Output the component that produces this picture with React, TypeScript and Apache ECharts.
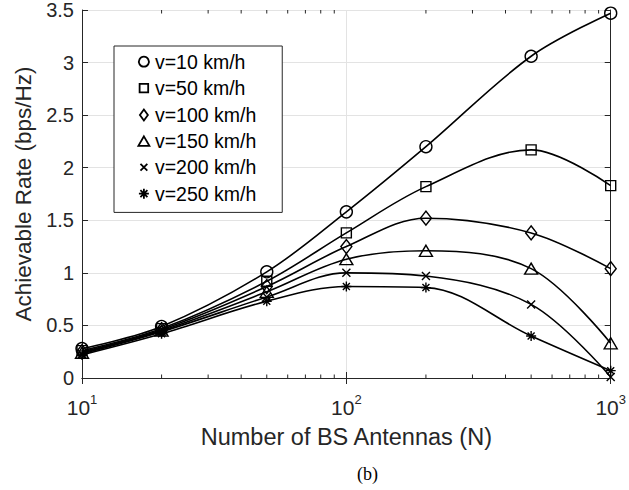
import React, { useEffect, useRef } from 'react';
import * as echarts from 'echarts';

// ---- data ----
const antennas = [10, 20, 50, 100, 200, 500, 1000];
const seriesNames = ['v=10 km/h', 'v=50 km/h', 'v=100 km/h', 'v=150 km/h', 'v=200 km/h', 'v=250 km/h'];
const rateV10 = [0.28, 0.49, 1.01, 1.58, 2.2, 3.06, 3.47];
const rateV50 = [0.26, 0.47, 0.92, 1.38, 1.82, 2.17, 1.83];
const rateV100 = [0.25, 0.46, 0.87, 1.25, 1.52, 1.38, 1.04];
const rateV150 = [0.24, 0.45, 0.82, 1.13, 1.21, 1.04, 0.33];
const rateV200 = [0.23, 0.44, 0.77, 1.0, 0.97, 0.7, 0.01];
const rateV250 = [0.22, 0.42, 0.73, 0.87, 0.86, 0.4, 0.07];
const allRates = [rateV10, rateV50, rateV100, rateV150, rateV200, rateV250];
const minorTickValues = [20, 30, 40, 50, 60, 70, 80, 90, 200, 300, 400, 500, 600, 700, 800, 900];
const yMin = 0;
const yMax = 3.5;
const yInterval = 0.5;
const xMin = 10;
const xMax = 1000;

const FONT = 'Liberation Sans, Arial, Helvetica, sans-serif';
const AXIS_COLOR = '#262626';

const xPath = 'path://M0,0L10,10M10,0L0,10';
const starPath = 'path://M5,0L5,10M0,5L10,5M1.5,1.5L8.5,8.5M8.5,1.5L1.5,8.5';
const symbols: any[] = ['circle', 'rect', 'diamond', 'triangle', xPath, starPath];
const symbolSizes: any[] = [12, 10, [11, 14], [13, 11], 8, 10];
// legend icons padded with invisible move-to points so they render smaller
const legendIcons = [
  'path://M-1,-1M11,11M5,0A5,5,0,1,1,4.99,0Z',
  'path://M-2,-2M12,12M0,0L10,0L10,10L0,10Z',
  'path://M-1,-1M11,11M5,0L9,5.5L5,11L1,5.5Z',
  'path://M-1,-1M11,11M5,0.5L10.5,10L-0.5,10Z',
  'path://M-3,-3M11,11M0,0L8,8M8,0L0,8',
  'path://M-1,-1M11,11M5,0L5,10M0,5L10,5M1.5,1.5L8.5,8.5M8.5,1.5L1.5,8.5',
];

export default function App() {
  const ref = useRef<HTMLDivElement>(null);
  useEffect(() => {
    if (!ref.current) return;
    const chart = echarts.init(ref.current, undefined, { renderer: 'svg' });
    const lineSeries = seriesNames.map((name, i) => ({
      name,
      type: 'line',
      xAxisIndex: 0,
      yAxisIndex: 0,
      data: antennas.map((n, k) => [n, allRates[i][k]]),
      smooth: 0.35,
      symbol: symbols[i],
      symbolSize: symbolSizes[i],
      showAllSymbol: true,
      lineStyle: { color: '#000', width: 1.6 },
      itemStyle: { color: 'rgba(0,0,0,0)', borderColor: '#000', borderWidth: 1.4 },
      emphasis: { disabled: true },
      z: 3,
    }));
    const minorTickSeries = {
      type: 'custom',
      name: 'minorTicks',
      xAxisIndex: 0,
      yAxisIndex: 0,
      silent: true,
      clip: false,
      data: minorTickValues.map((v) => [v, yMin]),
      renderItem: (params: any, api: any) => {
        const x = api.value(0);
        const pb = api.coord([x, yMin]);
        const pt = api.coord([x, yMax]);
        return {
          type: 'group',
          children: [
            { type: 'line', shape: { x1: pb[0], y1: pb[1], x2: pb[0], y2: pb[1] - 3.5 }, style: { stroke: AXIS_COLOR, lineWidth: 1 } },
            { type: 'line', shape: { x1: pt[0], y1: pt[1], x2: pt[0], y2: pt[1] + 3.5 }, style: { stroke: AXIS_COLOR, lineWidth: 1 } },
          ],
        };
      },
      z: 4,
    };
    chart.setOption({
      animation: false,
      backgroundColor: '#fff',
      textStyle: { fontFamily: FONT },
      grid: { left: 82, right: 17, top: 10, bottom: 112, containLabel: false },
      legend: {
        orient: 'vertical',
        left: 114,
        top: 46,
        backgroundColor: '#fff',
        borderColor: AXIS_COLOR,
        borderWidth: 1,
        borderRadius: 0,
        padding: [5, 26, 8, 23],
        itemWidth: 12,
        itemHeight: 12,
        itemGap: 5,
        itemTextGap: 14,
        selectedMode: false,
        textStyle: { fontSize: 19.5, color: '#000', fontFamily: FONT, lineHeight: 21.4 },
        itemStyle: { color: 'rgba(0,0,0,0)', borderColor: '#000', borderWidth: 1.8 },
        data: seriesNames.map((n, i) => ({ name: n, icon: legendIcons[i] })),
      },
      xAxis: [
        {
          type: 'log',
          logBase: 10,
          min: xMin,
          max: xMax,
          position: 'bottom',
          name: 'Number of BS Antennas (N)',
          nameLocation: 'middle',
          nameGap: 47,
          nameTextStyle: { fontSize: 23.5, color: AXIS_COLOR, fontFamily: FONT },
          axisLine: { show: true, lineStyle: { color: AXIS_COLOR, width: 1 } },
          axisTick: { show: true, inside: true, length: 6, lineStyle: { color: AXIS_COLOR } },
          splitLine: { show: true, lineStyle: { color: '#e3e3e3', width: 1 } },
          minorTick: { show: false },
          axisLabel: {
            margin: 15,
            color: AXIS_COLOR,
            showMinLabel: true,
            showMaxLabel: true,
            formatter: (v: number) => `{b|10}{s|${Math.round(Math.log10(v))}}`,
            rich: {
              b: { fontSize: 21, lineHeight: 28, color: AXIS_COLOR, fontFamily: FONT },
              s: { fontSize: 13, lineHeight: 13, verticalAlign: 'top', color: AXIS_COLOR, fontFamily: FONT },
            },
          },
        },
        {
          type: 'log',
          logBase: 10,
          min: xMin,
          max: xMax,
          position: 'top',
          axisLine: { show: true, lineStyle: { color: AXIS_COLOR, width: 1 } },
          axisTick: { show: true, inside: true, length: 6, lineStyle: { color: AXIS_COLOR } },
          axisLabel: { show: false },
          splitLine: { show: false },
        },
      ],
      yAxis: [
        {
          type: 'value',
          min: yMin,
          max: yMax,
          interval: yInterval,
          position: 'left',
          name: 'Achievable Rate (bps/Hz)',
          nameLocation: 'middle',
          nameGap: 36,
          nameTextStyle: { fontSize: 22.5, color: AXIS_COLOR, fontFamily: FONT },
          axisLine: { show: true, lineStyle: { color: AXIS_COLOR, width: 1 } },
          axisTick: { show: true, inside: true, length: 6, lineStyle: { color: AXIS_COLOR } },
          splitLine: { show: true, lineStyle: { color: '#e3e3e3', width: 1 } },
          axisLabel: { margin: 8, fontSize: 20, color: AXIS_COLOR, fontFamily: FONT },
        },
        {
          type: 'value',
          min: yMin,
          max: yMax,
          interval: yInterval,
          position: 'right',
          axisLine: { show: true, lineStyle: { color: AXIS_COLOR, width: 1 } },
          axisTick: { show: true, inside: true, length: 6, lineStyle: { color: AXIS_COLOR } },
          axisLabel: { show: false },
          splitLine: { show: false },
        },
      ],
      graphic: [
        {
          type: 'text',
          left: 357,
          top: 465,
          style: { text: '(b)', fontSize: 18, fontFamily: 'Liberation Serif, Times New Roman, serif', fill: '#000' },
        },
      ],
      series: [...lineSeries, minorTickSeries],
    });
    return () => chart.dispose();
  }, []);
  return <div ref={ref} style={{ position: 'fixed', left: 0, top: 0, width: 629, height: 490 }} />;
}
